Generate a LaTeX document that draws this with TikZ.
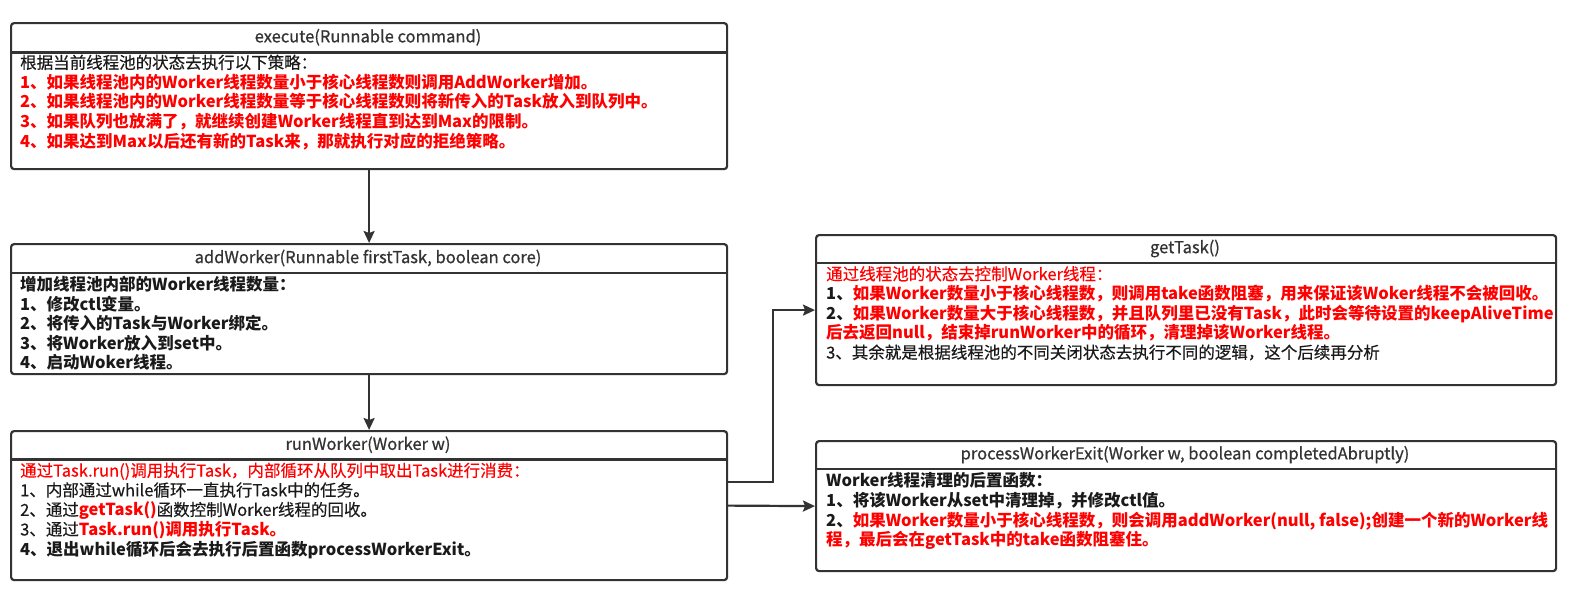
\documentclass[tikz,border=0pt]{standalone}
\usepackage{fontspec}
\setmainfont{Noto Sans CJK SC}[UprightFeatures={FakeBold=0.35}]
\newfontfamily\titlefont{Noto Sans CJK SC}[FakeBold=0.8]
\usetikzlibrary{arrows.meta}
\definecolor{lc}{HTML}{333333}
\definecolor{rd}{HTML}{FF0000}
\definecolor{tx}{HTML}{1A1A1A}
\newcommand\R[1]{\textcolor{rd}{\textbf{#1}}}
\newcommand\Rn[1]{\textcolor{rd}{#1}}
\tikzset{
  box/.style={draw=lc, line width=2.2pt, rounded corners=3pt, inner sep=0pt, anchor=north west},
  sepline/.style={draw=lc, line width=2.2pt},
  titletext/.style={font=\titlefont\fontsize{16.5}{19.6}\selectfont, text=lc, inner sep=0pt, anchor=center},
  bodytext/.style={font=\fontsize{16.5}{19.6}\selectfont, text=tx, inner sep=0pt, anchor=north west, align=left,
    execute at begin node={\rule{0pt}{15pt}}},
  conn/.style={draw=lc, line width=2.2pt, -{Stealth[length=12pt,width=11pt,inset=2pt]}},
}
\begin{document}
\begin{tikzpicture}[x=1pt,y=-1pt]
\useasboundingbox (0,0) rectangle (1584,606);
% boxes
\node[box, minimum width=716pt, minimum height=146pt] (exec) at (10,22) {};
\node[box, minimum width=716pt, minimum height=130pt] (addw) at (10,243) {};
\node[box, minimum width=716pt, minimum height=149pt] (runw) at (10,430) {};
\node[box, minimum width=740pt, minimum height=150pt] (gett) at (815,234) {};
\node[box, minimum width=740pt, minimum height=130pt] (pexit) at (815,440) {};
% separators
\draw[sepline] (10,52.5) -- (726,52.5);
\draw[sepline] (10,273) -- (726,273);
\draw[sepline] (10,459.5) -- (726,459.5);
\draw[sepline] (815,263) -- (1555,263);
\draw[sepline] (815,469.3) -- (1555,469.3);
% titles
\node[titletext] (execT) at (368,37.25) {execute(Runnable command)};
\node[titletext] (addwT) at (368,258) {addWorker(Runnable firstTask, boolean core)};
\node[titletext] (runwT) at (368,444.75) {runWorker(Worker w)};
\node[titletext] (gettT) at (1185,248.5) {getTask()};
\node[titletext] (pexitT) at (1185,454.6) {processWorkerExit(Worker w, boolean completedAbruptly)};
% bodies (first baseline = y + 15)
\node[bodytext] (execB) at (20,54.5) {根据当前线程池的状态去执行以下策略：\\
\R{1、如果线程池内的Worker线程数量小于核心线程数则调用AddWorker增加。}\\
\R{2、如果线程池内的Worker线程数量等于核心线程数则将新传入的Task放入到队列中。}\\
\R{3、如果队列也放满了，就继续创建Worker线程直到达到Max的限制。}\\
\R{4、如果达到Max以后还有新的Task来，那就执行对应的拒绝策略。}};
\node[bodytext, font=\fontsize{16.5}{19.6}\selectfont\bfseries] (addwB) at (20,276) {增加线程池内部的Worker线程数量：\\
1、修改ctl变量。\\
2、将传入的Task与Worker绑定。\\
3、将Worker放入到set中。\\
4、启动Woker线程。};
\node[bodytext] (runwB) at (20,462.5) {\Rn{通过Task.run()调用执行Task，内部循环从队列中取出Task进行消费：}\\
1、内部通过while循环一直执行Task中的任务。\\
2、通过\R{getTask()}函数控制Worker线程的回收。\\
3、通过\R{Task.run()调用执行Task。}\\
\textbf{4、退出while循环后会去执行后置函数processWorkerExit。}};
\node[bodytext] (gettB) at (826,266) {\Rn{通过线程池的状态去控制Worker线程：}\\
\textbf{1、}\R{如果Worker数量小于核心线程数，则调用take函数阻塞，用来保证该Woker线程不会被回收。}\\
\textbf{2、}\R{如果Worker数量大于核心线程数，并且队列里已没有Task，此时会等待设置的keepAliveTime}\\
\R{后去返回null，结束掉runWorker中的循环，清理掉该Worker线程。}\\
3、其余就是根据线程池的不同关闭状态去执行不同的逻辑，这个后续再分析};
\node[bodytext] (pexitB) at (826,472.5) {\textbf{Worker线程清理的后置函数：}\\
\textbf{1、将该Worker从set中清理掉，并修改ctl值。}\\
\textbf{2、}\R{如果Worker数量小于核心线程数，则会调用addWorker(null, false);创建一个新的Worker线}\\
\R{程，最后会在getTask中的take函数阻塞住。}};
% connectors
\draw[conn] (exec.south) -- (addw.north);
\draw[conn] (addw.south) -- (runw.north);
\draw[conn] ([yshift=23.5pt]runw.east) -- ++(45,0) |- (gett.west);
\draw[conn] (runw.east) -- (pexit.west);
\end{tikzpicture}
\end{document}
